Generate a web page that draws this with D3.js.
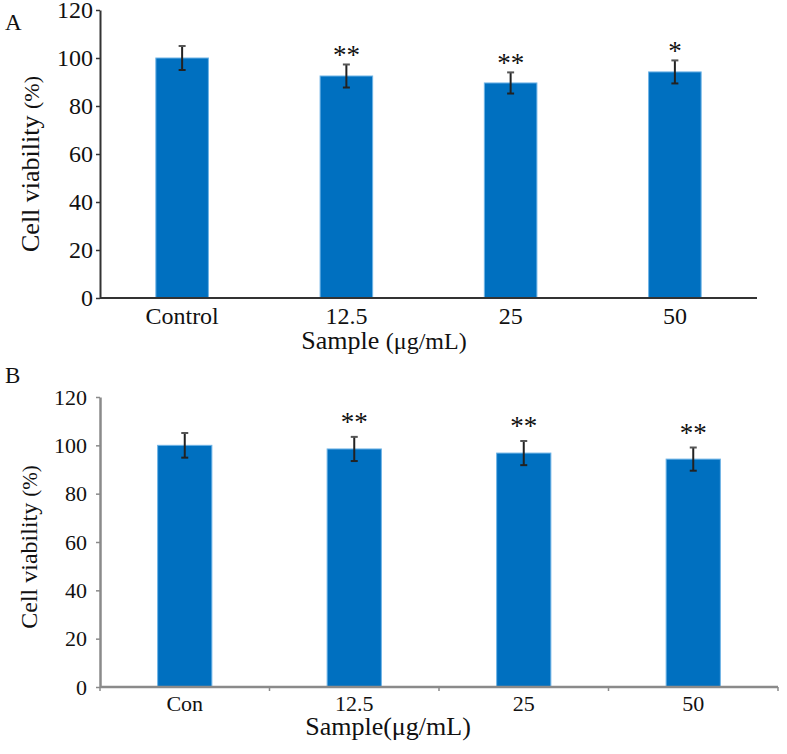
<!DOCTYPE html>
<html><head><meta charset="utf-8">
<script src="https://cdn.jsdelivr.net/npm/d3@7"></script>
</head><body style="margin:0;background:#fff"><svg id="c" width="787" height="754" style="display:block"></svg>
<script>
// Panel A data
const catsA = ["Control", "12.5", "25", "50"];
const valsA = [100, 92.5, 89.6, 94.2];
const errA = [5.0, 4.8, 4.4, 4.8];
const sigA = ["", "**", "**", "*"];
// Panel B data
const catsB = ["Con", "12.5", "25", "50"];
const valsB = [100, 98.5, 96.8, 94.3];
const errB = [5.1, 5.0, 5.0, 4.8];
const sigB = ["", "**", "**", "**"];
const yTicks = [0, 20, 40, 60, 80, 100, 120];

const svg = d3.select("#c");
const blue = "#0070c0";

function ff(sel, size) {
  return sel.attr("font-family", "Liberation Serif").style("font-family", '"Liberation Serif"')
    .style("font-size", size + "px").style("fill", "#111");
}

function panel(cfg) {
  const g = svg.append("g");
  const x = d3.scaleBand().domain(cfg.cats).range([cfg.x0, cfg.x1]).paddingInner(cfg.pad).paddingOuter(cfg.pad / 2);
  const y = d3.scaleLinear().domain([0, 120]).range([cfg.y0, cfg.y1]);
  // bars
  g.selectAll("rect.bar").data(cfg.vals).join("rect")
    .attr("x", (d, i) => x(cfg.cats[i])).attr("width", x.bandwidth())
    .attr("y", d => y(d)).attr("height", d => y(0) - y(d))
    .attr("fill", blue).attr("stroke", "#6fb4e6").attr("stroke-width", 1);
  // error bars
  const cx = i => x(cfg.cats[i]) + x.bandwidth() / 2;
  const eb = g.selectAll("g.err").data(cfg.vals).join("g");
  eb.append("line").attr("x1", (d, i) => cx(i)).attr("x2", (d, i) => cx(i))
    .attr("y1", (d, i) => y(d + cfg.err[i])).attr("y2", (d, i) => y(d - cfg.err[i]))
    .attr("stroke", "#222").attr("stroke-width", 2);
  [1, -1].forEach(s => {
    eb.append("line").attr("x1", (d, i) => cx(i) - 3.5).attr("x2", (d, i) => cx(i) + 3.5)
      .attr("y1", (d, i) => y(d + s * cfg.err[i])).attr("y2", (d, i) => y(d + s * cfg.err[i]))
      .attr("stroke", s > 0 ? "#555" : "#222").attr("stroke-width", 2);
  });
  // significance
  ff(g.selectAll("text.sig").data(cfg.sig).join("text")
    .attr("x", (d, i) => cx(i)).attr("y", (d, i) => y(cfg.vals[i] + cfg.err[i]) - cfg.sigGap)
    .attr("text-anchor", "middle").text(d => d), 27);
  // y axis
  const ya = g.append("g").attr("transform", `translate(${cfg.x0},0)`)
    .call(d3.axisLeft(y).tickValues(yTicks).tickSize(cfg.tick).tickPadding(cfg.tpad).tickSizeOuter(0));
  ya.attr("font-family", null);
  ya.select(".domain").attr("stroke", cfg.axisColor).attr("stroke-width", cfg.axisW);
  ya.selectAll(".tick line").attr("stroke", cfg.axisColor).attr("stroke-width", 1.5);
  ff(ya.selectAll(".tick text"), cfg.tfs);
  // x axis
  const xa = g.append("g").attr("transform", `translate(0,${cfg.y0})`)
    .call(d3.axisBottom(x).tickSize(0).tickPadding(cfg.xpad).tickSizeOuter(0));
  xa.attr("font-family", null);
  xa.select(".domain").attr("stroke", cfg.axisColor).attr("stroke-width", cfg.axisW).attr("d", `M${cfg.x0},0H${cfg.xEnd}`);
  ff(xa.selectAll(".tick text"), cfg.xfs);
  if (cfg.bounds) {
    const st = x.step();
    g.selectAll("line.bt").data(d3.range(cfg.cats.length + 1)).join("line")
      .attr("x1", i => cfg.x0 + i * st).attr("x2", i => cfg.x0 + i * st)
      .attr("y1", cfg.y0).attr("y2", cfg.y0 + 4).attr("stroke", cfg.axisColor).attr("stroke-width", 1.5);
  }
  // panel label
  ff(g.append("text").attr("x", cfg.lx).attr("y", cfg.ly).text(cfg.label), 23);
  // y title
  const yt = ff(g.append("text").attr("transform", `translate(${cfg.ytx},${cfg.yty}) rotate(-90)`)
    .attr("text-anchor", "middle"), cfg.ytfs);
  yt.append("tspan").text("Cell viability ");
  yt.append("tspan").style("font-size", cfg.ytfs2 + "px").text("(%)");
  // x title
  const xt = ff(g.append("text").attr("x", cfg.xtx).attr("y", cfg.xty).attr("text-anchor", "middle"), cfg.xtfs);
  xt.append("tspan").text(cfg.xt1);
  xt.append("tspan").style("font-size", cfg.xt2fs + "px").text(cfg.xt2);
}

panel({cats: catsA, vals: valsA, err: errA, sig: sigA, x0: 100, x1: 757, xEnd: 757, y0: 298, y1: 10,
  pad: 0.68, sigGap: 0, tick: 4, tpad: 3, tfs: 24, xfs: 24, xpad: 9, axisColor: "#333", axisW: 2, bounds: false,
  label: "A", lx: 5, ly: 30, ytx: 39, yty: 164, ytfs: 26, ytfs2: 22,
  xtx: 384, xty: 349, xtfs: 26, xt1: "Sample ", xt2: "(μg/mL)", xt2fs: 24});

panel({cats: catsB, vals: valsB, err: errB, sig: sigB, x0: 100, x1: 778, xEnd: 778, y0: 687, y1: 397,
  pad: 0.68, sigGap: 6, tick: 4, tpad: 9, tfs: 22, xfs: 22, xpad: 8, axisColor: "#8a8a8a", axisW: 2.5, bounds: true,
  label: "B", lx: 5, ly: 383, ytx: 37, yty: 547, ytfs: 24, ytfs2: 21,
  xtx: 388, xty: 735, xtfs: 26, xt1: "Sample", xt2: "(μg/mL)", xt2fs: 26});
</script></body></html>
